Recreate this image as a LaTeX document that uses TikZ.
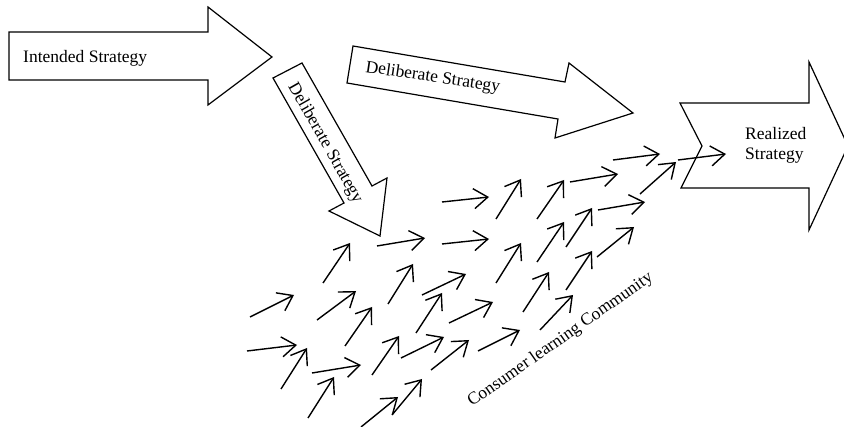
\documentclass[tikz,border=0pt]{standalone}
\usepackage{fontspec}
\setmainfont{Liberation Serif}
\usetikzlibrary{arrows.meta}
\begin{document}
\begin{tikzpicture}[x=1pt,y=-1pt,
  bigarrow/.style={draw=black, line width=1.2pt, line join=miter, fill=white},
  lbl/.style={font=\fontsize{17.5}{21}\selectfont, inner sep=0pt},
  flow/.style={line width=1.4pt, -{Straight Barb[length=14pt,width=20pt]}}]
\useasboundingbox (0,0) rectangle (844,427);

% Intended strategy block arrow
\draw[bigarrow] (9,32) -- (208,32) -- (208,7) -- (272,57) -- (208,105) -- (208,80) -- (9,80) -- cycle;
\node[lbl, anchor=base west] (intended) at (23,63) {Intended Strategy};

% Deliberate strategy, steep branch
\draw[bigarrow] (273,78) -- (302,63) -- (372,186) -- (387,178) -- (380,236) -- (329,211) -- (344,203) -- cycle;
\node[lbl, rotate=-60.5] (delibA) at (325,143) {Deliberate Strategy};

% Deliberate strategy, shallow branch
\draw[bigarrow] (353,46) -- (565,82) -- (569,63) -- (633,113) -- (555,138) -- (558,119) -- (347,83) -- cycle;
\node[lbl, anchor=base west, rotate=-8.5] (delibB) at (365,72) {Deliberate Strategy};

% Realized strategy block arrow
\draw[bigarrow] (680,103) -- (809,103) -- (809,62) -- (848,146) -- (809,230) -- (809,188) -- (681,188) -- (702,146) -- cycle;
\node[lbl, anchor=base west] (realized1) at (745,140) {Realized};
\node[lbl, anchor=base west] (realized2) at (745,160) {Strategy};

% Emergent moves of the consumer learning community
\foreach \ax/\ay/\bx/\by in {
  323/283/350/243, 250/317/294/295, 317/320/356/291, 345/346/372/307,
  247/351/297/345, 281/389/307/348, 312/373/361/365, 308/418/334/377,
  377/246/425/238, 388/304/413/264, 416/333/442/293, 422/295/466/274,
  372/375/399/336, 401/358/444/337, 431/370/469/340, 361/427/398/397,
  392/415/422/379, 442/202/489/197, 496/219/521/179, 442/244/489/239,
  496/283/521/243, 523/312/549/272, 449/323/493/302, 478/351/520/330,
  537/219/564/180, 570/182/618/174, 613/160/660/154, 537/262/564/222,
  566/247/592/208, 598/210/645/202, 640/194/676/162, 597/257/634/227,
  566/290/592/251, 540/330/573/295, 678/160/726/154}
  \draw[flow] (\ax,\ay) -- (\bx,\by);

\node[lbl, anchor=base west, rotate=35] (community) at (472,407) {Consumer learning Community};
\end{tikzpicture}
\end{document}
